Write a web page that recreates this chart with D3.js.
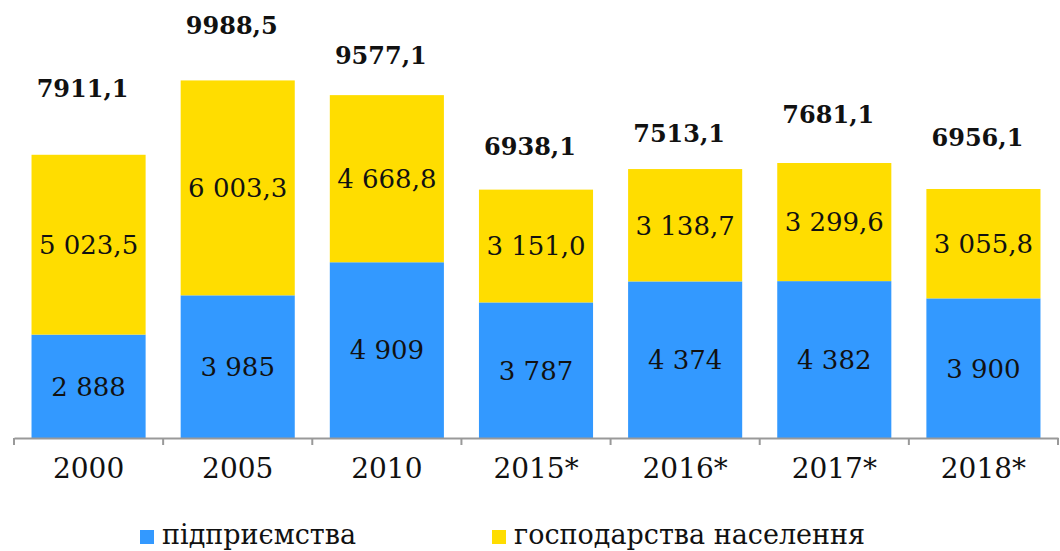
<!DOCTYPE html>
<html>
<head>
<meta charset="utf-8">
<script src="https://cdn.jsdelivr.net/npm/d3@7"></script>
<style>
  html, body { margin: 0; padding: 0; background: #ffffff; }
  svg { display: block; }
</style>
</head>
<body>
<svg id="chart" width="1060" height="551"></svg>
<script>
// ---- data ----
const categories = ["2000", "2005", "2010", "2015*", "2016*", "2017*", "2018*"];
const enterprises = [2888, 3985, 4909, 3787, 4374, 4382, 3900];
const households = [5023.5, 6003.3, 4668.8, 3151.0, 3138.7, 3299.6, 3055.8];
const totals = [7911.1, 9988.5, 9577.1, 6938.1, 7513.1, 7681.1, 6956.1];
const enterpriseLabels = ["2 888", "3 985", "4 909", "3 787", "4 374", "4 382", "3 900"];
const householdLabels = ["5 023,5", "6 003,3", "4 668,8", "3 151,0", "3 138,7", "3 299,6", "3 055,8"];
const totalLabels = ["7911,1", "9988,5", "9577,1", "6938,1", "7513,1", "7681,1", "6956,1"];
const seriesNames = ["підприємства", "господарства населення"];

// ---- layout ----
const blue = "#3399ff";
const yellow = "#ffdd00";
const axisY = 438;
const totalLabelLift = [58, 46, 31, 35, 27, 40, 43];

const svg = d3.select("#chart");

const x = d3.scaleBand()
  .domain(categories)
  .range([14, 1058])
  .paddingInner(0.235)
  .paddingOuter(0.1175);

const y = d3.scaleLinear()
  .domain([0, 12235])
  .range([axisY, 0]);

const rows = categories.map((c, i) => ({
  c, i,
  e: enterprises[i], h: households[i], t: totals[i]
}));

const serif = "'DejaVu Serif', serif";

// bars
const g = svg.append("g");
g.selectAll("rect.e").data(rows).join("rect")
  .attr("class", "e")
  .attr("x", d => x(d.c))
  .attr("width", x.bandwidth())
  .attr("y", d => y(d.e))
  .attr("height", d => y(0) - y(d.e))
  .attr("fill", blue);

g.selectAll("rect.h").data(rows).join("rect")
  .attr("class", "h")
  .attr("x", d => x(d.c))
  .attr("width", x.bandwidth())
  .attr("y", d => y(d.e + d.h))
  .attr("height", d => y(d.e) - y(d.e + d.h))
  .attr("fill", yellow);

// segment labels
g.selectAll("text.el").data(rows).join("text")
  .attr("class", "el")
  .attr("x", d => x(d.c) + x.bandwidth() / 2)
  .attr("y", d => (y(0) + y(d.e)) / 2)
  .attr("dy", "0.36em")
  .attr("text-anchor", "middle")
  .style("font-family", serif)
  .style("font-size", "26px")
  .attr("fill", "#111")
  .text(d => enterpriseLabels[d.i]);

g.selectAll("text.hl").data(rows).join("text")
  .attr("class", "hl")
  .attr("x", d => x(d.c) + x.bandwidth() / 2)
  .attr("y", d => (y(d.e) + y(d.e + d.h)) / 2)
  .attr("dy", "0.36em")
  .attr("text-anchor", "middle")
  .style("font-family", serif)
  .style("font-size", "26px")
  .attr("fill", "#111")
  .text(d => householdLabels[d.i]);

// total labels
g.selectAll("text.tl").data(rows).join("text")
  .attr("class", "tl")
  .attr("x", d => x(d.c) + x.bandwidth() / 2 - 6)
  .attr("y", d => y(d.e + d.h) - totalLabelLift[d.i])
  .attr("text-anchor", "middle")
  .style("font-family", serif)
  .style("font-weight", "bold")
  .style("font-size", "24px")
  .attr("fill", "#111")
  .text(d => totalLabels[d.i]);

// x axis
const axis = svg.append("g")
  .attr("transform", `translate(0,${axisY})`)
  .call(d3.axisBottom(x).tickSize(0).tickPadding(20));
axis.select(".domain").attr("stroke", "#999999").attr("stroke-width", 2);
axis.selectAll(".tick text")
  .style("font-family", serif)
  .style("font-size", "28px")
  .attr("fill", "#111");

const step = x.step();
const bounds = categories.map(c => x(c) - step * x.paddingInner() / 2);
bounds.push(x(categories[categories.length - 1]) + x.bandwidth() + step * x.paddingInner() / 2);
axis.selectAll("line.bt").data(bounds).join("line")
  .attr("class", "bt")
  .attr("x1", d => d).attr("x2", d => d)
  .attr("y1", 0).attr("y2", 7)
  .attr("stroke", "#999999").attr("stroke-width", 2);

// legend
const legend = svg.append("g");
const legendItems = [
  { name: seriesNames[0], color: blue, x: 140 },
  { name: seriesNames[1], color: yellow, x: 492 }
];
legendItems.forEach(it => {
  legend.append("rect")
    .attr("x", it.x).attr("y", 530)
    .attr("width", 14).attr("height", 14)
    .attr("fill", it.color);
  legend.append("text")
    .attr("x", it.x + 22).attr("y", 544)
    .style("font-family", serif)
    .style("font-size", "27px")
    .attr("fill", "#111")
    .text(it.name);
});
</script>
</body>
</html>
